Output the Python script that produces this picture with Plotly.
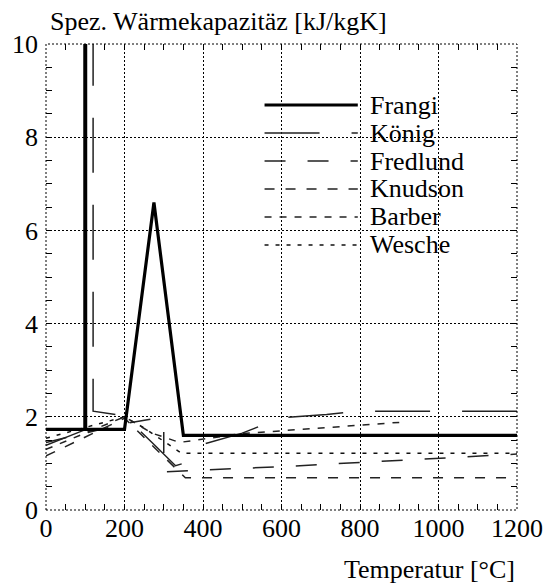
import plotly.graph_objects as go

# ---------------- data ----------------
frangi_x = [0, 99, 99, 101, 101, 200, 275, 350, 1200]
frangi_y = [1.73, 1.73, 12, 12, 1.73, 1.73, 6.6, 1.6, 1.6]

koenig_x = [0, 99, 99, 120, 120, 200, 270, 330, 350, 400, 500, 600, 715, 800, 1200]
koenig_y = [1.39, 1.72, 12, 12, 2.12, 2.02, 1.45, 0.95, 1.0, 1.41, 1.65, 1.98, 2.05, 2.12, 2.12]

fredlund_x = [0, 100, 200, 280, 300, 300, 600, 1200]
fredlund_y = [1.45, 1.65, 1.85, 1.97, 1.75, 0.82, 0.93, 1.2]

knudson_x = [0, 200, 355, 1200]
knudson_y = [1.16, 1.97, 0.69, 0.69]

barber_x = [0, 200, 270, 340, 500, 900]
barber_y = [1.3, 2.0, 1.65, 1.45, 1.64, 1.88]

wesche_x = [0, 200, 250, 345, 1200]
wesche_y = [1.54, 2.0, 1.76, 1.22, 1.22]

series_names = ["Frangi", "König", "Fredlund", "Knudson", "Barber", "Wesche"]

x_ticks = [0, 200, 400, 600, 800, 1000, 1200]
y_ticks = [0, 2, 4, 6, 8, 10]

# ---------------- styles ----------------
styles = {
    "Frangi": dict(color="black", width=3.2, dash="solid"),
    "König": dict(color="#222", width=1.5, dash="55px,32px"),
    "Fredlund": dict(color="#222", width=1.5, dash="21px,22px"),
    "Knudson": dict(color="#222", width=1.5, dash="10px,11px"),
    "Barber": dict(color="#222", width=1.5, dash="7px,8px"),
    "Wesche": dict(color="#111", width=1.5, dash="4px,7px"),
}

data = {
    "Frangi": (frangi_x, frangi_y),
    "König": (koenig_x, koenig_y),
    "Fredlund": (fredlund_x, fredlund_y),
    "Knudson": (knudson_x, knudson_y),
    "Barber": (barber_x, barber_y),
    "Wesche": (wesche_x, wesche_y),
}

FONT = "Liberation Serif, Times New Roman, serif"

fig = go.Figure()
for name in series_names[::-1]:
    xs, ys = data[name]
    fig.add_trace(go.Scatter(x=xs, y=ys, mode="lines", name=name,
                             line=styles[name], showlegend=False,
                             hoverinfo="skip"))

# legend box (white, hides grid)
fig.add_shape(type="rect", xref="paper", yref="paper",
              x0=0.426, x1=0.904, y0=0.502, y1=0.997,
              fillcolor="white", line=dict(width=0), layer="between")

# manual legend
row_py = [105, 133, 161, 189, 217, 245]
PH = 466.0
for name, py in zip(series_names, row_py):
    yp = (510 - py) / PH
    st = styles[name]
    fig.add_shape(type="line", xref="paper", yref="paper",
                  x0=0.464, x1=0.662, y0=yp, y1=yp,
                  line=dict(color=st["color"], width=st["width"], dash=st["dash"]),
                  layer="above")
    fig.add_annotation(text=name, xref="paper", yref="paper", x=0.684, y=yp,
                       xanchor="left", yanchor="middle", showarrow=False,
                       font=dict(family=FONT, size=26, color="black"))

# dotted frame
fig.add_shape(type="rect", xref="paper", yref="paper", x0=0, x1=1, y0=0, y1=1,
              line=dict(color="black", width=1, dash="2px,2px"), layer="above")

axis_common = dict(
    showgrid=True, gridcolor="black", gridwidth=1, griddash="2px,2px",
    zeroline=False, showline=False, ticks="inside", ticklen=6,
    tickcolor="black", tickwidth=1, mirror="allticks", automargin=False,
    tickfont=dict(family=FONT, size=26, color="black"),
)

fig.update_xaxes(range=[0, 1200], tickvals=x_ticks,
                 minor=dict(dtick=50, tick0=0, ticks="inside", ticklen=6,
                            tickcolor="black", showgrid=False),
                 **axis_common)
fig.update_yaxes(range=[0, 10], tickvals=y_ticks, ticklabelstandoff=7,
                 minor=dict(dtick=0.5, tick0=0, ticks="inside", ticklen=6,
                            tickcolor="black", showgrid=False),
                 **axis_common)

fig.add_annotation(text="Spez. Wärmekapazitäz [kJ/kgK]", xref="paper", yref="paper",
                   x=0.005, y=(510 - 22) / PH, xanchor="left", yanchor="middle",
                   showarrow=False, font=dict(family=FONT, size=26, color="black"))
fig.add_annotation(text="Temperatur [°C]", xref="paper", yref="paper",
                   x=1.0, y=(510 - 569) / PH, xanchor="right", yanchor="middle",
                   showarrow=False, font=dict(family=FONT, size=26, color="black"))

fig.update_layout(
    width=546, height=583,
    margin=dict(l=46, r=29, t=44, b=73, autoexpand=False),
    plot_bgcolor="white", paper_bgcolor="white",
    showlegend=False,
)

fig.write_html("out.html", config={"displayModeBar": False},
               post_script="document.body.style.margin='0';document.body.style.overflow='hidden';")
